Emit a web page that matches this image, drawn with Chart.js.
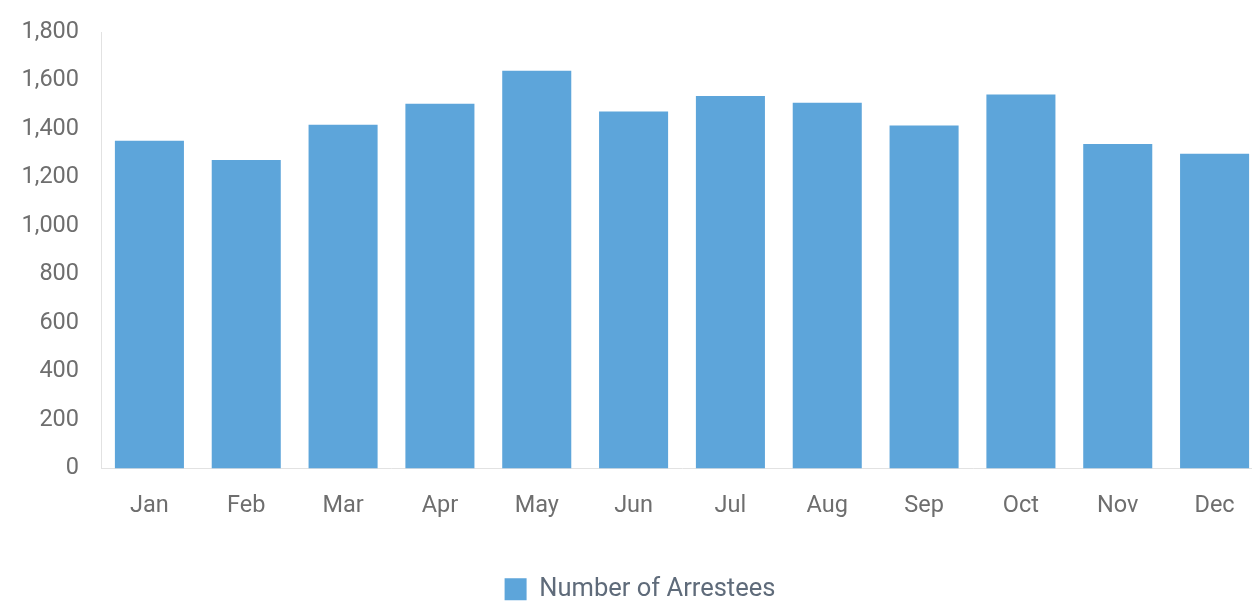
<!DOCTYPE html>
<html>
<head>
<meta charset="utf-8">
<script src="https://cdn.jsdelivr.net/npm/chart.js@4/dist/chart.umd.min.js"></script>
<style>
  html, body { margin: 0; padding: 0; background: #fff; overflow: hidden; }
  canvas { display: block; }
</style>
</head>
<body>
<canvas id="arrests-chart" width="1280" height="606"></canvas>
<script>
// Values
const months = ["Jan", "Feb", "Mar", "Apr", "May", "Jun", "Jul", "Aug", "Sep", "Oct", "Nov", "Dec"];
const arrestees = [1352, 1272, 1418, 1504, 1640, 1472, 1536, 1508, 1414, 1542, 1338, 1298];
const yTicks = [0, 200, 400, 600, 800, 1000, 1200, 1400, 1600, 1800];

const ctx = document.getElementById("arrests-chart").getContext("2d");
const arrestChart = new Chart(ctx, {
    type: 'bar',
    data: {
        labels: months,
        datasets: [{
            label: 'Number of Arrestees',
            data: arrestees,
            backgroundColor: '#5DA5DA',
            borderWidth: 0,
            barPercentage: 0.713,
            categoryPercentage: 1.0
        }]
    },
    options: {
        responsive: false,
        animation: false,
        layout: { padding: { top: 0, right: 17, left: 17, bottom: -6 } },
        plugins: {
            tooltip: { enabled: false },
            legend: {
                position: 'bottom',
                labels: {
                    boxWidth: 22,
                    boxHeight: 22,
                    padding: 4,
                    color: '#5f6b7a',
                    font: { family: 'Roboto', size: 25.5 }
                }
            }
        },
        scales: {
            x: {
                grid: { display: false, drawTicks: false },
                border: { color: '#e2e2e2', width: 1 },
                ticks: {
                    color: '#6e6e6e',
                    padding: 24,
                    font: { family: 'Roboto', size: 23.5 }
                },
                afterFit: scale => { scale.height = 104; }
            },
            y: {
                min: 0,
                max: 1800,
                grid: { display: false, drawTicks: false },
                border: { color: '#e2e2e2', width: 1 },
                afterBuildTicks: scale => {
                    scale.ticks = yTicks.map(v => ({ value: v }));
                },
                ticks: {
                    color: '#6e6e6e',
                    padding: 22,
                    font: { family: 'Roboto', size: 23.5 },
                    callback: v => v.toLocaleString('en-US')
                },
                afterFit: scale => {
                    scale.width = 84;
                    scale.paddingTop = 32;
                }
            }
        }
    }
});
</script>
</body>
</html>
